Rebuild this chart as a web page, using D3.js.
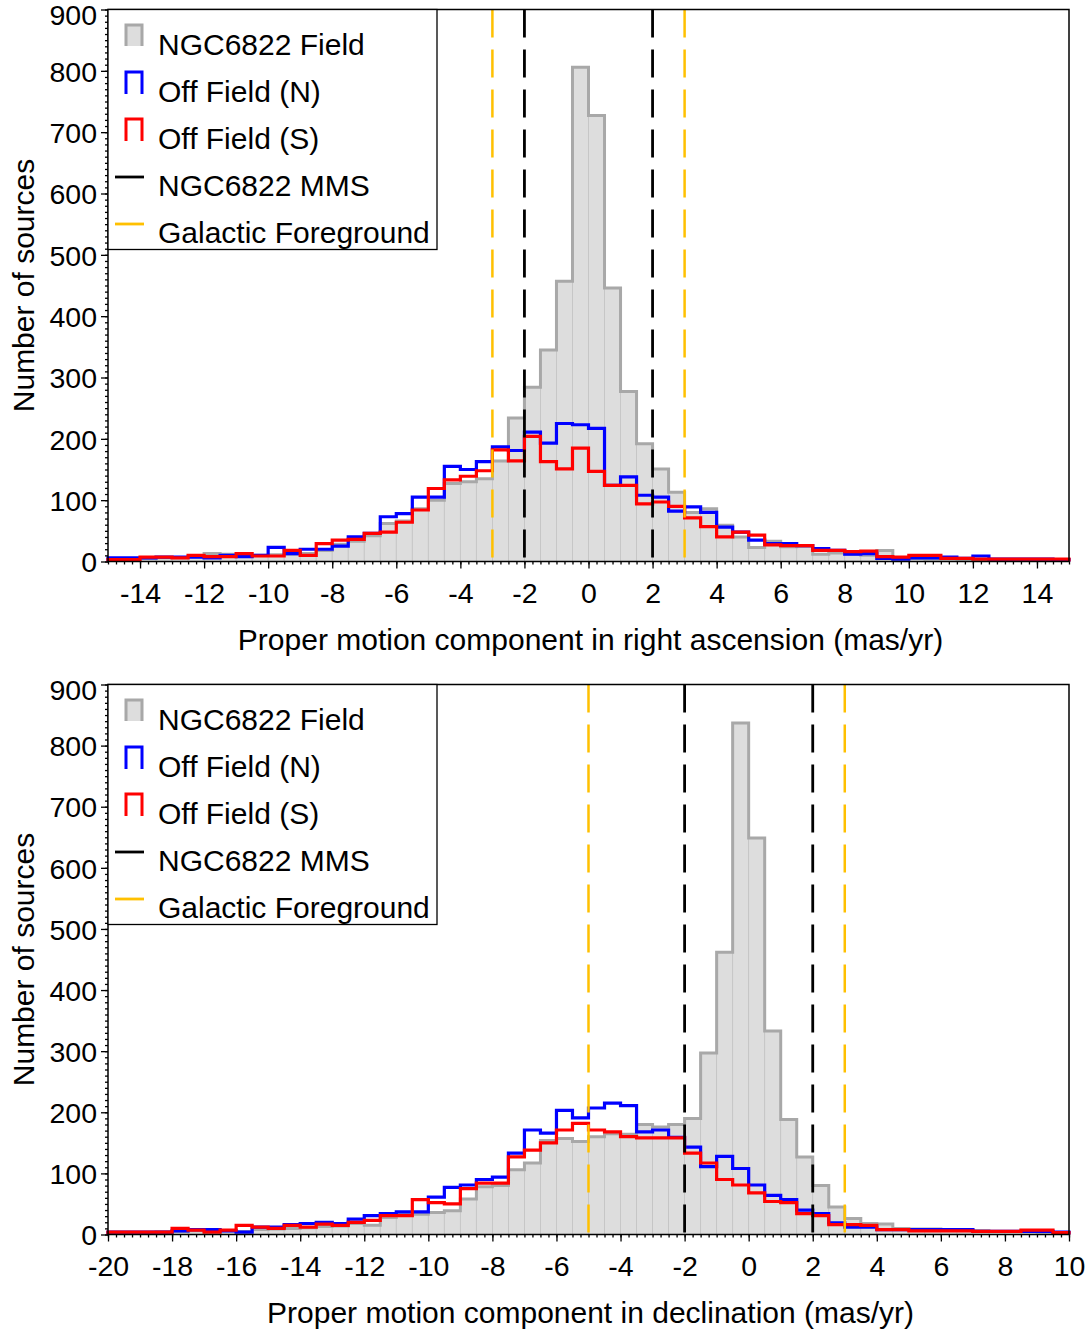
<!DOCTYPE html>
<html>
<head>
<meta charset="utf-8">
<script src="https://cdn.jsdelivr.net/npm/d3@7"></script>
<style>
  body { margin: 0; background: #fff; }
  svg text { font-family: "Liberation Sans", Arial, sans-serif; fill: #000; }
</style>
</head>
<body>
<div id="chart"></div>
<script>
const width = 1090;
const height = 1331;
const binWidth = 0.5;

// --- right ascension panel: bins start at -15 and step 0.5 ---
const raStart = -15;
const raField = [4, 4, 5, 6, 6, 8, 13, 12, 9, 10, 11, 12, 13, 18, 28, 33, 42, 62, 66, 86,
  100, 127, 130, 135, 164, 234, 284, 345, 457, 806, 727, 446, 277, 192, 151, 113, 80, 86, 59, 40,
  23, 33, 24, 25, 12, 14, 12, 10, 18, 5, 5, 4, 4, 3, 3, 3, 3, 2, 2, 2];
const raNorth = [6, 6, 6, 7, 7, 7, 6, 10, 8, 10, 23, 13, 20, 20, 25, 40, 46, 73, 78, 105,
  105, 155, 150, 163, 187, 181, 211, 193, 225, 223, 217, 124, 138, 108, 105, 82, 89, 80, 56, 48,
  35, 29, 29, 26, 21, 18, 12, 13, 5, 4, 6, 6, 7, 5, 9, 4, 4, 4, 4, 3];
const raSouth = [3, 3, 7, 7, 6, 10, 8, 8, 13, 9, 9, 18, 10, 29, 35, 36, 46, 48, 64, 84,
  119, 133, 139, 148, 182, 164, 204, 163, 151, 185, 147, 124, 124, 94, 97, 90, 71, 57, 40, 48,
  43, 27, 26, 26, 18, 18, 16, 17, 8, 7, 10, 10, 5, 5, 4, 4, 4, 4, 4, 4];
const raMMS = [-2, 2];
const raForeground = [-3, 3];
const raTicks = [-14, -12, -10, -8, -6, -4, -2, 0, 2, 4, 6, 8, 10, 12, 14];

// --- declination panel: bins start at -20 and step 0.5 ---
const decStart = -20;
const decField = [3, 3, 3, 4, 5, 6, 5, 6, 5, 8, 9, 10, 11, 13, 14, 18, 15, 28, 33, 33,
  36, 39, 58, 78, 80, 106, 117, 154, 157, 152, 160, 165, 164, 180, 176, 180, 190, 297, 462, 837,
  649, 333, 188, 127, 80, 45, 26, 18, 17, 10, 9, 9, 8, 7, 6, 5, 5, 5, 4, 3];
const decNorth = [4, 4, 4, 4, 6, 8, 8, 6, 4, 12, 12, 16, 18, 20, 18, 25, 31, 34, 37, 37,
  61, 77, 81, 90, 94, 133, 171, 166, 203, 191, 207, 215, 211, 168, 171, 159, 143, 111, 128, 108,
  81, 64, 57, 40, 34, 19, 12, 12, 8, 8, 8, 8, 8, 8, 5, 5, 5, 5, 5, 4];
const decSouth = [4, 4, 4, 4, 10, 7, 4, 7, 15, 12, 10, 15, 12, 17, 15, 20, 23, 31, 31, 57,
  52, 50, 75, 84, 84, 127, 138, 150, 171, 182, 171, 168, 160, 158, 158, 158, 133, 117, 90, 81,
  68, 54, 52, 34, 31, 16, 16, 15, 8, 8, 6, 6, 6, 6, 5, 5, 5, 7, 7, 3];
const decMMS = [-2, 2];
const decForeground = [-5, 3];
const decTicks = [-20, -18, -16, -14, -12, -10, -8, -6, -4, -2, 0, 2, 4, 6, 8, 10];

const yTicks = [0, 100, 200, 300, 400, 500, 600, 700, 800, 900];

const legendItems = ["NGC6822 Field", "Off Field (N)", "Off Field (S)", "NGC6822 MMS", "Galactic Foreground"];

const colors = {
  fill: "#dddddd",
  divider: "#c3c3c3",
  outline: "#a8a8a8",
  north: "#0000ff",
  south: "#ff0000",
  mms: "#000000",
  foreground: "#ffc000"
};

const svg = d3.select("#chart")
  .append("svg")
  .attr("width", width)
  .attr("height", height);

const left = 108, right = 1069;

function stepPoints(start, values, x, y) {
  const pts = [[x(start), y(0)]];
  values.forEach((v, i) => {
    const x0 = start + i * binWidth;
    pts.push([x(x0), y(v)]);
    pts.push([x(x0 + binWidth), y(v)]);
  });
  pts.push([x(start + values.length * binWidth), y(0)]);
  return pts;
}

function drawPanel(cfg) {
  const g = svg.append("g");
  const x = d3.scaleLinear().domain(cfg.xDomain).range([left, right]);
  const y = d3.scaleLinear().domain([0, 900]).range([cfg.bottom, cfg.top]);
  const line = d3.line();

  // grey field histogram (bars + outline)
  g.selectAll("rect.bin")
    .data(cfg.field)
    .join("rect")
    .attr("class", "bin")
    .attr("x", (d, i) => x(cfg.start + i * binWidth))
    .attr("width", x(binWidth) - x(0))
    .attr("y", d => y(d))
    .attr("height", d => y(0) - y(d))
    .attr("fill", colors.fill)
    .attr("stroke", colors.divider)
    .attr("stroke-width", 0.8);

  g.append("path")
    .attr("d", line(stepPoints(cfg.start, cfg.field, x, y)))
    .attr("fill", "none")
    .attr("stroke", colors.outline)
    .attr("stroke-width", 3);

  g.append("path")
    .attr("d", line(stepPoints(cfg.start, cfg.north, x, y)))
    .attr("fill", "none")
    .attr("stroke", colors.north)
    .attr("stroke-width", 3.2);

  g.append("path")
    .attr("d", line(stepPoints(cfg.start, cfg.south, x, y)))
    .attr("fill", "none")
    .attr("stroke", colors.south)
    .attr("stroke-width", 3.2);

  // dashed reference lines
  g.selectAll("line.fg")
    .data(cfg.foreground)
    .join("line")
    .attr("x1", d => x(d)).attr("x2", d => x(d))
    .attr("y1", cfg.top).attr("y2", cfg.bottom)
    .attr("stroke", colors.foreground)
    .attr("stroke-width", 2.5)
    .attr("stroke-dasharray", "28,12");

  g.selectAll("line.mms")
    .data(cfg.mms)
    .join("line")
    .attr("x1", d => x(d)).attr("x2", d => x(d))
    .attr("y1", cfg.top).attr("y2", cfg.bottom)
    .attr("stroke", colors.mms)
    .attr("stroke-width", 2.8)
    .attr("stroke-dasharray", "28,12");

  // axes
  const xMinor = d3.range(cfg.xDomain[0], cfg.xDomain[1] + 0.001, 0.25);
  g.append("g")
    .attr("transform", `translate(0,${cfg.bottom})`)
    .call(d3.axisBottom(x).tickValues(xMinor).tickSize(3).tickFormat(""))
    .call(a => a.select(".domain").remove());

  g.append("g")
    .attr("transform", `translate(0,${cfg.bottom})`)
    .call(d3.axisBottom(x).tickValues(cfg.ticks).tickSize(7).tickPadding(14).tickFormat(d => String(d)))
    .call(a => a.select(".domain").remove())
    .call(a => a.selectAll("text").attr("font-size", 28.5).attr("font-family", "Liberation Sans, Arial, sans-serif"));

  g.append("g")
    .attr("transform", `translate(${left},0)`)
    .call(d3.axisLeft(y).tickValues(d3.range(0, 901, 10)).tickSize(3).tickFormat(""))
    .call(a => a.select(".domain").remove());

  g.append("g")
    .attr("transform", `translate(${left},0)`)
    .call(d3.axisLeft(y).tickValues(yTicks).tickSize(7).tickPadding(4).tickFormat(d => String(d)))
    .call(a => a.select(".domain").remove())
    .call(a => a.selectAll("text")
      .attr("font-size", 28.5)
      .attr("font-family", "Liberation Sans, Arial, sans-serif")
      .attr("dy", d => d === 900 ? "0.52em" : "0.36em"));

  g.selectAll(".tick line").attr("stroke", "#000").attr("stroke-width", 1.3);

  // frame
  g.append("rect")
    .attr("x", left).attr("y", cfg.top)
    .attr("width", right - left).attr("height", cfg.bottom - cfg.top)
    .attr("fill", "none")
    .attr("stroke", "#000")
    .attr("stroke-width", 1.5);

  // titles
  g.append("text")
    .attr("x", (left + right) / 2 + 2)
    .attr("y", cfg.bottom + 88)
    .attr("text-anchor", "middle")
    .attr("font-size", 30)
    .text(cfg.xTitle);

  g.append("text")
    .attr("transform", `translate(34,${(cfg.top + cfg.bottom) / 2}) rotate(-90)`)
    .attr("text-anchor", "middle")
    .attr("font-size", 30)
    .text("Number of sources");

  // legend
  const lg = g.append("g").attr("transform", `translate(${left},${cfg.top})`);
  lg.append("rect")
    .attr("x", 0).attr("y", 0)
    .attr("width", 329).attr("height", 240)
    .attr("fill", "#fff")
    .attr("stroke", "#000")
    .attr("stroke-width", 1.3);

  const rowY = i => 45.5 + i * 47;
  legendItems.forEach((label, i) => {
    lg.append("text")
      .attr("x", 50)
      .attr("y", rowY(i))
      .attr("font-size", 30)
      .text(label);
  });

  // field symbol
  lg.append("rect")
    .attr("x", 18).attr("y", rowY(0) - 30)
    .attr("width", 16).attr("height", 21)
    .attr("fill", colors.fill);
  lg.append("path")
    .attr("d", `M18,${rowY(0) - 9}V${rowY(0) - 30}H34V${rowY(0) - 9}`)
    .attr("fill", "none")
    .attr("stroke", colors.outline)
    .attr("stroke-width", 3);

  [[1, colors.north], [2, colors.south]].forEach(([i, c]) => {
    lg.append("path")
      .attr("d", `M18,${rowY(i) - 8}V${rowY(i) - 30}H34V${rowY(i) - 8}`)
      .attr("fill", "none")
      .attr("stroke", c)
      .attr("stroke-width", 3);
  });

  [[3, colors.mms], [4, colors.foreground]].forEach(([i, c]) => {
    lg.append("line")
      .attr("x1", 7).attr("x2", 36)
      .attr("y1", rowY(i) - 19).attr("y2", rowY(i) - 19)
      .attr("stroke", c)
      .attr("stroke-width", 2.8);
  });
}

drawPanel({
  xDomain: [-15, 15], start: raStart, top: 9.5, bottom: 561.5,
  field: raField, north: raNorth, south: raSouth,
  mms: raMMS, foreground: raForeground, ticks: raTicks,
  xTitle: "Proper motion component in right ascension (mas/yr)"
});

drawPanel({
  xDomain: [-20, 10], start: decStart, top: 684.5, bottom: 1234.5,
  field: decField, north: decNorth, south: decSouth,
  mms: decMMS, foreground: decForeground, ticks: decTicks,
  xTitle: "Proper motion component in declination (mas/yr)"
});
</script>
</body>
</html>
